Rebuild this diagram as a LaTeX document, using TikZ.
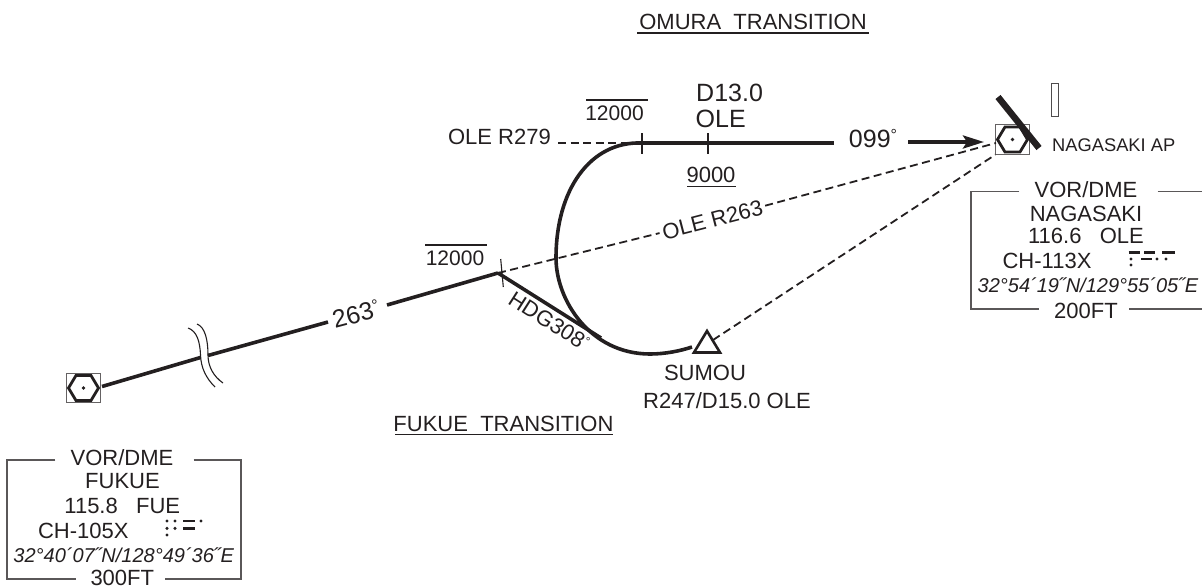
\documentclass[tikz,border=0pt]{standalone}
\usepackage{fontspec}
\setmainfont{Liberation Sans}
\usepackage{tikz}
\usetikzlibrary{arrows.meta}
\definecolor{ink}{RGB}{35,31,32}
\tikzset{
    lbl/.style={inner sep=0pt, text=ink, font=\fontsize{22}{22}\selectfont},
    biglbl/.style={inner sep=0pt, text=ink, font=\fontsize{25}{25}\selectfont},
    poslbl/.style={inner sep=0pt, text=ink, font=\fontsize{20}{20}\selectfont\itshape},
    route/.style={draw=ink, line width=3.6pt},
    dashline/.style={draw=ink, line width=1.8pt, dash pattern=on 8pt off 4.5pt},
    hair/.style={draw=ink, line width=1.1pt},
    frame/.style={draw=ink!75, line width=1.3pt},
    navbox/.style={draw=ink!70, line width=0.9pt, minimum width=33.5pt, minimum height=29.5pt, inner sep=0pt}
}
\newcommand{\NavAid}[3]{
    \node[navbox] (#1) at (#2,#3) {};
    \draw[draw=ink, line width=2.8pt, line join=miter] (#2-15,#3) -- (#2-7.5,#3-12.5) -- (#2+7.5,#3-12.5) -- (#2+15,#3) -- (#2+7.5,#3+12.5) -- (#2-7.5,#3+12.5) -- cycle;
    \fill[ink] (#2,#3) circle (1.8pt);
}
\newcommand{\MorseDot}[2]{\fill[ink] (#1,#2) circle (1.7pt);}
\newcommand{\MorseBar}[3]{\draw[draw=ink, line width=2.6pt] (#1,#3) -- (#2,#3);}
\newcommand{\Deg}[2]{\raisebox{#2pt}{\fontsize{#1}{#1}\selectfont°}}
\begin{document}
\begin{tikzpicture}[x=1pt,y=-1pt]
    \useasboundingbox (0,0) rectangle (1202,587);

    % beacons and fixes
    \NavAid{fukue}{83.5}{388}
    \NavAid{nagasaki}{1012.5}{139.5}
    \coordinate (fukueOut) at (102,386.5);
    \coordinate (fixW) at (498,273);
    \coordinate (brkL) at (200.5,357.5);
    \coordinate (brkR) at (208,355.5);
    \coordinate (seg1) at (328,322);
    \coordinate (seg2) at (387,305);
    \coordinate (turnTop) at (642,143);
    \coordinate (hdgEnd) at (601,338);
    \coordinate (tick13) at (708,133);
    \coordinate (tick13b) at (708,154);
    \coordinate (inbdEnd) at (834,143);
    \coordinate (arrowStart) at (908,142);
    \coordinate (arrowTip) at (984,142);
    \coordinate (r279Start) at (558,143);
    \coordinate (sumouNE) at (713,340);
    \coordinate (nagaW) at (996,143);

    % route labels
    \node[biglbl, rotate=15] (brg263) at (356,314) {263\Deg{16}{7}};
    \node[biglbl] (brg099) at (873,139) {099\Deg{16}{7}};
    \node[lbl, rotate=14.5, inner sep=3pt] (r263) at (712.5,220) {OLE R263};
    \node[lbl, rotate=-32.6] (hdg) at (549,321) {HDG308\Deg{12}{7}};
    \node[lbl, anchor=east] (r279) at (551,137) {OLE R279};

    % dashed radials
    \draw[dashline] (r279Start) -- (turnTop);
    \draw[dashline] (fixW) -- (r263);
    \draw[dashline] (r263) -- (nagaW);
    \draw[dashline] (sumouNE) -- (nagasaki.south west);

    % routes
    \draw[route] (fukueOut) -- (brkL);
    \draw[route] (brkR) -- (seg1);
    \draw[route] (seg2) -- (fixW);
    \draw[route, line join=miter] (fixW) -- (hdgEnd);
    \draw[route] (turnTop) -- (inbdEnd);
    \draw[route, -{Stealth[length=21pt,width=13pt,inset=4pt]}] (arrowStart) -- (arrowTip);
    \draw[route] (turnTop) .. controls (590,141) and (556,190) .. (556,258) .. controls (556,300) and (590,354) .. (650,354) .. controls (665,354) and (680,351) .. (692,347);

    % break mark
    \draw[hair] (188,328) .. controls (197,331) and (200,342) .. (200.5,355) .. controls (201,368) and (206,378) .. (215,387);
    \draw[hair] (197,324) .. controls (205,327) and (208,340) .. (208,355) .. controls (208,366) and (213,376) .. (223,383);

    % ticks
    \draw[hair] (500.7,259) -- (503.3,287);
    \draw[hair] (642,133) -- (642,154);
    \draw[hair] (tick13) -- (tick13b);

    % SUMOU triangle
    \draw[draw=ink, line width=2.6pt, line join=miter] (707,331) -- (720,352.5) -- (694,352.5) -- cycle;

    % airport
    \draw[draw=ink, line width=6.5pt] (998,97) -- (1039,148);
    \draw[draw=ink!80, line width=1pt] (1051,83.5) rectangle (1058.5,116.5);
    \node[lbl, font=\fontsize{18.3}{18.3}\selectfont, anchor=west] (ap) at (1052,145) {NAGASAKI AP};

    % altitudes
    \node[lbl, font=\fontsize{21}{21}\selectfont] (alt12a) at (614.5,113) {12000};
    \draw[hair] (586,100) -- (648,100);
    \node[lbl, font=\fontsize{21}{21}\selectfont] (alt12b) at (455,258) {12000};
    \draw[hair] (425,245) -- (487,245);
    \node[lbl] (alt9) at (711,175) {9000};
    \draw[hair] (687,186.5) -- (735.5,186.5);
    \node[biglbl, anchor=west] (d13a) at (696,93) {D13.0};
    \node[biglbl, anchor=west] (d13b) at (695.5,119) {OLE};

    % titles
    \node[lbl] (omura) at (753,22) {OMURA\ \ TRANSITION};
    \draw[hair] (637,33) -- (869,33);
    \node[lbl] (fukueT) at (503.5,424) {FUKUE\ \ TRANSITION};
    \draw[hair] (395,434.5) -- (613,434.5);
    \node[lbl] (sumou) at (705,373) {SUMOU};
    \node[lbl] (sumouR) at (727,401) {R247/D15.0 OLE};

    % Nagasaki frame
    \node[lbl] (nVor) at (1086,190) {VOR/DME};
    \node[lbl] (nName) at (1086,214) {NAGASAKI};
    \node[lbl] (nFreq) at (1086,236) {116.6\ \ \ OLE};
    \node[lbl] (nCh) at (1047,260.5) {CH-113X};
    \node[poslbl] (nPos) at (1088,285.5) {32°54´19˝N/129°55´05˝E};
    \node[lbl] (nFt) at (1086,311) {200FT};
    \draw[frame] ([xshift=-15pt]nVor.west |- 0,191.7) -- (971,191.7) -- (971,309) -- ([xshift=-15pt]nFt.west |- 0,309);
    \draw[frame] ([xshift=20pt]nVor.east |- 0,191.7) -- (1202,191.7);
    \draw[frame] ([xshift=11pt]nFt.east |- 0,309) -- (1202,309);
    \MorseBar{1128.5}{1140}{252.7}
    \MorseBar{1144}{1155}{252.7}
    \MorseBar{1162}{1175}{252.7}
    \MorseDot{1131}{259}
    \MorseBar{1141}{1152}{259}
    \MorseDot{1157}{259}
    \MorseDot{1166}{259}
    \MorseDot{1131}{265}

    % Fukue frame
    \node[lbl] (fVor) at (122,458) {VOR/DME};
    \node[lbl] (fName) at (122.5,481) {FUKUE};
    \node[lbl] (fFreq) at (122.3,506) {115.8\ \ \ FUE};
    \node[lbl] (fCh) at (83.3,530.5) {CH-105X};
    \node[poslbl] (fPos) at (123.7,555.5) {32°40´07˝N/128°49´36˝E};
    \node[lbl] (fFt) at (122.3,578) {300FT};
    \draw[frame] ([xshift=-15pt]fVor.west |- 0,460) -- (7,460) -- (7,579) -- ([xshift=-14pt]fFt.west |- 0,579);
    \draw[frame] ([xshift=20pt]fVor.east |- 0,460) -- (241,460) -- (241,579) -- ([xshift=11pt]fFt.east |- 0,579);
    \foreach \my in {521,528.3}{
        \MorseDot{167}{\my}
        \MorseDot{175}{\my}
        \MorseBar{183}{195}{\my}
    }
    \MorseDot{201}{521}
    \MorseDot{167}{535}
\end{tikzpicture}
\end{document}
